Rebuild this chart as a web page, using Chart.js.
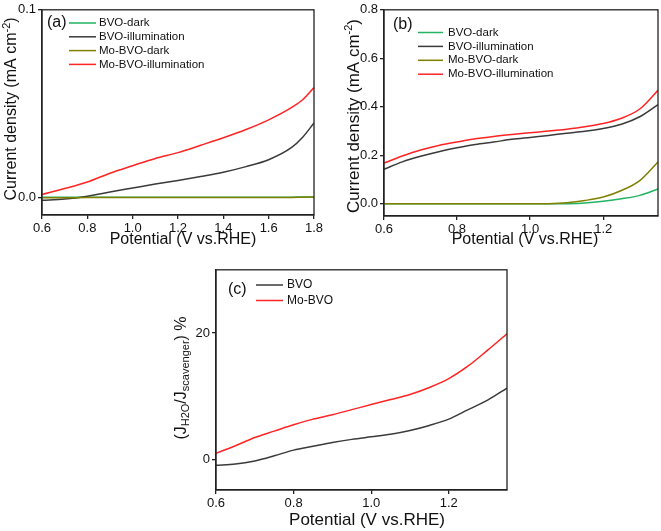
<!DOCTYPE html>
<html><head><meta charset="utf-8">
<script src="https://cdn.jsdelivr.net/npm/chart.js@4"></script>
<style>
html,body{margin:0;padding:0;background:#fff;width:661px;height:531px;overflow:hidden;}
canvas{position:absolute;}
</style></head><body>
<canvas id="ca" width="330" height="260" style="left:0px;top:0px"></canvas>
<canvas id="cb" width="331" height="260" style="left:330px;top:0px"></canvas>
<canvas id="cc" width="370" height="271" style="left:160px;top:260px"></canvas>
<script>
// ---------- Panel (a) ----------
const potentialA   = [0.6, 0.7, 0.8, 0.9, 1.0, 1.1, 1.2, 1.3, 1.4, 1.5, 1.6, 1.7, 1.75, 1.8];
const bvoDarkA     = [0, 0, 0, 0, 0, 0, 0, 0, 0, 0, 0, 0, 0.0001, 0.0001];
const bvoIllumA    = [-0.0016, -0.001, 0.0005, 0.0028, 0.0049, 0.007, 0.0089, 0.011, 0.0133, 0.0163, 0.02, 0.0264, 0.032, 0.0396];
const moBvoDarkA   = [-0.0003, -0.0003, -0.0002, -0.0002, -0.0002, -0.0002, -0.0002, -0.0002, -0.0002, -0.0002, -0.0001, -0.0001, 0, 0.0001];
const moBvoIllumA  = [0.0014, 0.0046, 0.0081, 0.0128, 0.0168, 0.0207, 0.0238, 0.0277, 0.0317, 0.0361, 0.0413, 0.0478, 0.052, 0.0585];
const xTicksA = [0.6, 0.8, 1.0, 1.2, 1.4, 1.6, 1.8];
const yTicksA = [0.0, 0.1];

// ---------- Panel (b) ----------
const potentialB   = [0.6, 0.65, 0.7, 0.75, 0.8, 0.85, 0.9, 0.95, 1.0, 1.05, 1.1, 1.15, 1.2, 1.25, 1.3, 1.35];
const bvoDarkB     = [0, 0, 0, 0, 0, 0, 0, 0, 0, 0, 0.001, 0.004, 0.011, 0.021, 0.035, 0.061];
const bvoIllumB    = [0.143, 0.173, 0.196, 0.215, 0.231, 0.245, 0.255, 0.266, 0.274, 0.282, 0.291, 0.299, 0.311, 0.328, 0.359, 0.409];
const moBvoDarkB   = [0, 0, 0, 0, 0, 0, 0, 0, 0, 0.001, 0.005, 0.014, 0.028, 0.055, 0.096, 0.173];
const moBvoIllumB  = [0.168, 0.197, 0.222, 0.241, 0.255, 0.268, 0.278, 0.286, 0.293, 0.300, 0.308, 0.318, 0.331, 0.353, 0.391, 0.468];
const xTicksB = [0.6, 0.8, 1.0, 1.2];
const yTicksB = [0.0, 0.2, 0.4, 0.6, 0.8];

// ---------- Panel (c) ----------
const potentialC   = [0.6, 0.65, 0.7, 0.75, 0.8, 0.85, 0.9, 0.95, 1.0, 1.05, 1.1, 1.15, 1.2, 1.25, 1.3, 1.35];
const bvoRatioC    = [-0.9, -0.7, -0.2, 0.6, 1.5, 2.1, 2.7, 3.2, 3.6, 4.0, 4.6, 5.4, 6.4, 7.9, 9.4, 11.3];
const moBvoRatioC  = [1.0, 2.2, 3.5, 4.5, 5.5, 6.4, 7.1, 7.9, 8.7, 9.5, 10.3, 11.4, 12.8, 14.8, 17.3, 19.9];
const xTicksC = [0.6, 0.8, 1.0, 1.2];
const yTicksC = [0, 20];

// ---------- styling ----------
const FONT = "'Liberation Sans', Arial, sans-serif";
Chart.defaults.font.family = FONT;
Chart.defaults.font.size = 13;
Chart.defaults.color = '#111';
const C_GREEN = '#22b362', C_GRAY = '#3a3a3a', C_OLIVE = '#808000', C_RED = '#ff2424';
const AXIS = '#222';

function pts(xs, ys){ return xs.map((x,i)=>({x:x, y:ys[i]})); }
function ds(label, xs, ys, color, order){
  return {label, data: pts(xs, ys), borderColor: color, backgroundColor: color,
          borderWidth: 1.5, pointRadius: 0, fill: false,
          cubicInterpolationMode: 'monotone', order};
}

function drawRich(ctx, parts, cx, cy, rot){
  ctx.save();
  ctx.translate(cx, cy); ctx.rotate(rot);
  let w = 0;
  for (const p of parts){ ctx.font = p.s + 'px ' + FONT; w += ctx.measureText(p.t).width; }
  let x = -w/2;
  ctx.textBaseline = 'middle'; ctx.textAlign = 'left'; ctx.fillStyle = '#111';
  for (const p of parts){ ctx.font = p.s + 'px ' + FONT; ctx.fillText(p.t, x, p.dy || 0); x += ctx.measureText(p.t).width; }
  ctx.restore();
}

const decor = {
  id: 'decor',
  afterDraw(chart, args, o){
    const ctx = chart.ctx, a = chart.chartArea;
    ctx.save();
    ctx.strokeStyle = AXIS; ctx.lineWidth = 1.3;
    ctx.strokeRect(a.left, a.top, a.right - a.left, a.bottom - a.top);
    drawRich(ctx, o.xTitle.parts, o.xTitle.x, o.xTitle.y, 0);
    drawRich(ctx, o.yTitle.parts, o.yTitle.x, o.yTitle.y, -Math.PI/2);
    ctx.font = o.tag.s + 'px ' + FONT; ctx.fillStyle = '#111';
    ctx.textBaseline = 'middle'; ctx.textAlign = 'left';
    ctx.fillText(o.tag.t, o.tag.x, o.tag.y);
    const L = o.legend;
    ctx.font = L.s + 'px ' + FONT;
    chart.data.datasets.forEach((d, i) => {
      const y = L.y + i * L.dy;
      ctx.strokeStyle = d.borderColor; ctx.lineWidth = 1.5;
      ctx.beginPath(); ctx.moveTo(L.x0, y); ctx.lineTo(L.x1, y); ctx.stroke();
      ctx.fillStyle = '#111';
      ctx.fillText(d.label, L.tx, y);
    });
    ctx.restore();
  }
};

function axisX(min, max, ticks, h, fmt){
  return {type: 'linear', min, max,
    afterBuildTicks: s => { s.ticks = ticks.map(v => ({value: v})); },
    afterFit: s => { s.height = h; },
    ticks: {padding: 2, font: {size: 13}, color: '#111', callback: fmt, maxRotation: 0, autoSkip: false},
    grid: {drawOnChartArea: false, drawTicks: true, tickLength: 4, color: AXIS, lineWidth: 1.3},
    border: {color: AXIS, width: 1.3}};
}
function axisY(min, max, ticks, w, fmt){
  return {type: 'linear', min, max,
    afterBuildTicks: s => { s.ticks = ticks.map(v => ({value: v})); },
    afterFit: s => { s.width = w; },
    ticks: {padding: 2, font: {size: 13}, color: '#111', callback: fmt, autoSkip: false},
    grid: {drawOnChartArea: false, drawTicks: true, tickLength: 4, color: AXIS, lineWidth: 1.3},
    border: {color: AXIS, width: 1.3}};
}
const f1 = v => Number(v).toFixed(1);
const f0 = v => Number(v).toFixed(0);

const baseOpts = {responsive: false, animation: false, devicePixelRatio: 1,
  plugins: {legend: {display: false}, tooltip: {enabled: false}}};

const potentialTitle = [{t: 'Potential (V vs.RHE)', s: 16}];

// (a)
new Chart(document.getElementById('ca'), {
  type: 'line',
  data: {datasets: [
    ds('BVO-dark', potentialA, bvoDarkA, C_GREEN, 3),
    ds('BVO-illumination', potentialA, bvoIllumA, C_GRAY, 2),
    ds('Mo-BVO-dark', potentialA, moBvoDarkA, C_OLIVE, 1),
    ds('Mo-BVO-illumination', potentialA, moBvoIllumA, C_RED, 0)
  ]},
  options: Object.assign({}, baseOpts, {
    layout: {padding: {left: 0, top: 7, right: 16, bottom: 0}},
    scales: {x: axisX(0.6, 1.8, xTicksA, 45, f1), y: axisY(-0.0095, 0.1, yTicksA, 42, f1)},
    plugins: Object.assign({}, baseOpts.plugins, {decor: {
      xTitle: {parts: potentialTitle, x: 183, y: 240},
      yTitle: {parts: [{t: 'Current density (mA cm', s: 16}, {t: '-2', s: 11, dy: -5}, {t: ')', s: 16}], x: 12, y: 109},
      tag: {t: '(a)', s: 16, x: 47, y: 23},
      legend: {x0: 69, x1: 96, tx: 99, y: 23, dy: 13.8, s: 11.5}
    }})
  }),
  plugins: [decor]
});

// (b)
new Chart(document.getElementById('cb'), {
  type: 'line',
  data: {datasets: [
    ds('BVO-dark', potentialB, bvoDarkB, C_GREEN, 3),
    ds('BVO-illumination', potentialB, bvoIllumB, C_GRAY, 2),
    ds('Mo-BVO-dark', potentialB, moBvoDarkB, C_OLIVE, 1),
    ds('Mo-BVO-illumination', potentialB, moBvoIllumB, C_RED, 0)
  ]},
  options: Object.assign({}, baseOpts, {
    layout: {padding: {left: 0, top: 7, right: 3, bottom: 0}},
    scales: {x: axisX(0.6, 1.35, xTicksB, 44, f1), y: axisY(-0.05, 0.8, yTicksB, 54, f1)},
    plugins: Object.assign({}, baseOpts.plugins, {decor: {
      xTitle: {parts: potentialTitle, x: 195, y: 240},
      yTitle: {parts: [{t: 'Current density (mA cm', s: 17}, {t: '-2', s: 11, dy: -5}, {t: ')', s: 17}], x: 24, y: 116},
      tag: {t: '(b)', s: 16, x: 63, y: 25},
      legend: {x0: 88, x1: 113, tx: 118, y: 32.5, dy: 13.9, s: 11.5}
    }})
  }),
  plugins: [decor]
});

// (c)
new Chart(document.getElementById('cc'), {
  type: 'line',
  data: {datasets: [
    ds('BVO', potentialC, bvoRatioC, C_GRAY, 1),
    ds('Mo-BVO', potentialC, moBvoRatioC, C_RED, 0)
  ]},
  options: Object.assign({}, baseOpts, {
    layout: {padding: {left: 0, top: 7, right: 23, bottom: 0}},
    scales: {x: axisX(0.6, 1.35, xTicksC, 41, f1), y: axisY(-4.8, 30, yTicksC, 56, f0)},
    plugins: Object.assign({}, baseOpts.plugins, {decor: {
      xTitle: {parts: [{t: 'Potential (V vs.RHE)', s: 17}], x: 207, y: 260},
      yTitle: {parts: [{t: '(J', s: 16}, {t: 'H2O', s: 11, dy: 4}, {t: '/J', s: 16}, {t: 'scavenger', s: 11, dy: 4}, {t: ') %', s: 16}], x: 22, y: 118},
      tag: {t: '(c)', s: 16, x: 68, y: 30},
      legend: {x0: 96, x1: 123, tx: 127, y: 25, dy: 15.5, s: 12}
    }})
  }),
  plugins: [decor]
});
</script>
</body></html>
